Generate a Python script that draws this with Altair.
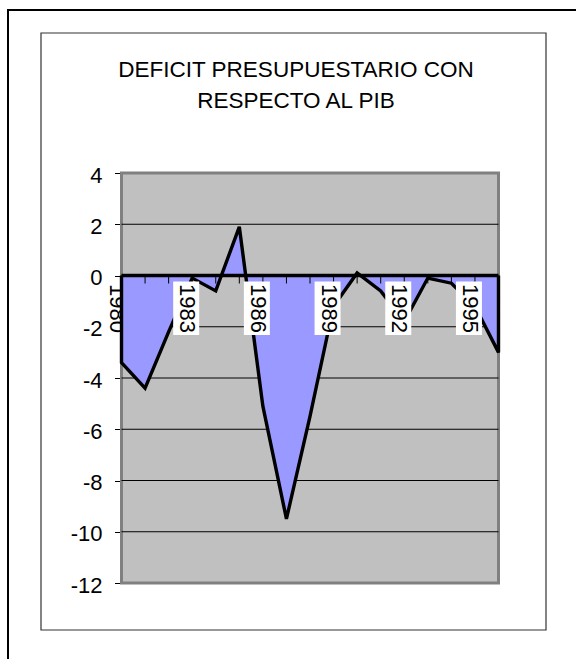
import altair as alt
import pandas as pd

# Budget deficit as a share of GDP, one value per year
years = list(range(1980, 1997))
deficit = [-3.4, -4.4, -2.2, -0.1, -0.6, 1.9, -5.1, -9.5, -5.5, -1.2,
           0.1, -0.6, -1.8, -0.1, -0.3, -1.2, -3.0]
label_years = [1980, 1983, 1986, 1989, 1992, 1995]
y_ticks = [-12, -10, -8, -6, -4, -2, 0, 2, 4]
grid_values = [-10, -8, -6, -4, -2, 2]
title_lines = ["DEFICIT PRESUPUESTARIO CON", "RESPECTO AL PIB"]

W, H = 377, 410
PAD_L, PAD_T = 121.5, 173
FONT = "Liberation Sans"

df = pd.DataFrame({"year": years, "value": deficit})
# closed outline: down the left edge, along the series, back up the right edge
outline = pd.DataFrame({
    "year": [years[0]] + years + [years[-1]],
    "value": [0] + deficit + [0],
    "order": list(range(len(years) + 2)),
})
labels = pd.DataFrame({"year": label_years, "text": [str(y) for y in label_years]})
grid = pd.DataFrame({"v": grid_values})
one = pd.DataFrame({"k": [0]})

x_scale = alt.Scale(domain=[years[0], years[-1]], nice=False, zero=False)
y_scale = alt.Scale(domain=[y_ticks[0], y_ticks[-1]], nice=False)

# page frame and chart-area frame
outer = alt.Chart(one).mark_rect(fillOpacity=0, stroke="black", strokeWidth=2).encode(
    x=alt.value(8 - PAD_L), x2=alt.value(640 - PAD_L),
    y=alt.value(10 - PAD_T), y2=alt.value(720 - PAD_T))
inner = alt.Chart(one).mark_rect(fillOpacity=0, stroke="#333333", strokeWidth=1.2).encode(
    x=alt.value(41 - PAD_L), x2=alt.value(546 - PAD_L),
    y=alt.value(33 - PAD_T), y2=alt.value(630 - PAD_T))

title = alt.Chart(one).mark_text(
    font=FONT, fontSize=22.5, align="center", baseline="alphabetic",
    lineHeight=31.5, color="black").encode(
    x=alt.value(296 - PAD_L), y=alt.value(76.7 - PAD_T), text=alt.value(title_lines))


def year_labels(data):
    box = alt.Chart(data).mark_rect(
        fill="white", xOffset=-19, x2Offset=7, yOffset=6, y2Offset=59.5).encode(
        x=alt.X("year:Q", scale=x_scale), x2="year:Q", y=alt.datum(0), y2=alt.datum(0))
    txt = alt.Chart(data).mark_text(
        font=FONT, fontSize=22, angle=90, align="left", baseline="middle",
        color="black", xOffset=-5, yOffset=8.5).encode(
        x=alt.X("year:Q", scale=x_scale), y=alt.datum(0), text="text:N")
    return [box, txt]


# first label sits partly under the plot area, so it goes below the background
edge_labels = year_labels(alt.Data(values=[{"year": label_years[0], "text": str(label_years[0])}]))
inner_labels = year_labels(labels[labels["year"] > years[0]])

bg = alt.Chart(one).mark_rect(fill="#C0C0C0", stroke="#808080", strokeWidth=3).encode(
    x=alt.datum(years[0]), x2=alt.datum(years[-1]),
    y=alt.datum(y_ticks[0]), y2=alt.datum(y_ticks[-1]))

gridlines = alt.Chart(grid).mark_rule(color="black", strokeWidth=1).encode(
    y=alt.Y("v:Q", scale=y_scale), x=alt.datum(years[0]), x2=alt.datum(years[-1]))

area = alt.Chart(df).mark_area(color="#9999FF", opacity=1).encode(
    x=alt.X("year:Q", scale=x_scale),
    y=alt.Y("value:Q", scale=y_scale,
            axis=alt.Axis(values=y_ticks, title=None, grid=False, domain=False,
                          tickSize=7, tickColor="black", tickWidth=1,
                          labelExpr="datum.value + ''",
                          labelFont=FONT, labelFontSize=22, labelColor="black",
                          labelPadding=12.5, labelOffset=2)),
    y2=alt.datum(0))

line = alt.Chart(outline).mark_line(color="black", strokeWidth=3.4, strokeJoin="miter").encode(
    x=alt.X("year:Q", scale=x_scale), y=alt.Y("value:Q", scale=y_scale), order="order:Q")

zero_axis = alt.Chart(one).mark_rule(color="black", strokeWidth=3.4).encode(
    x=alt.datum(years[0]), x2=alt.datum(years[-1]), y=alt.datum(0))

ticks = alt.Chart(df).mark_rule(color="black", strokeWidth=1, y2Offset=8).encode(
    x=alt.X("year:Q", scale=x_scale), y=alt.datum(0), y2=alt.datum(0))

chart = alt.layer(
    outer, inner, title, *edge_labels, bg, gridlines, area, line, zero_axis, ticks, *inner_labels
).properties(
    width=W, height=H,
    autosize=alt.AutoSizeParams(type="none"),
    padding={"left": PAD_L, "top": PAD_T, "right": 576 - PAD_L - W, "bottom": 659 - PAD_T - H},
    background="white",
).configure_view(strokeWidth=0).configure_axisX(disable=True)

chart.save("out.html", embed_options={"renderer": "svg", "actions": False})
